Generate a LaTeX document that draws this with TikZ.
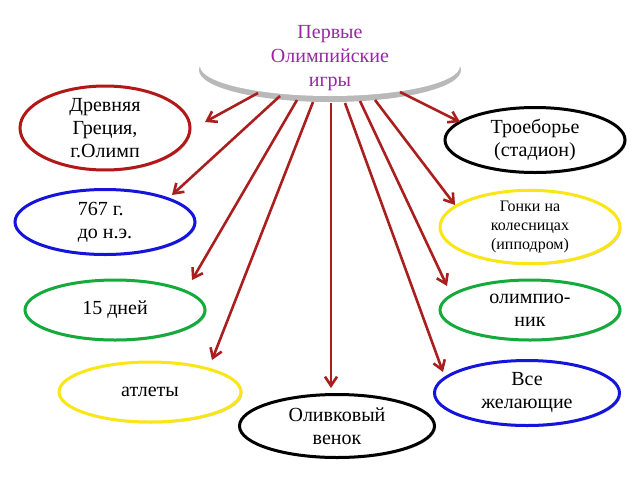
\documentclass[tikz,border=0pt]{standalone}
\usepackage{fontspec}
\setmainfont{Liberation Serif}
\usetikzlibrary{shapes.geometric,shadows,arrows.meta}
\definecolor{darkred}{RGB}{178,24,24}
\definecolor{arrred}{RGB}{170,30,30}
\definecolor{ringblue}{RGB}{20,20,220}
\definecolor{ringgreen}{RGB}{20,170,60}
\definecolor{ringyellow}{RGB}{250,230,20}
\definecolor{titlepurple}{RGB}{150,40,160}

\begin{document}
\begin{tikzpicture}[
    x=1pt, y=-1pt,
    ring/.style={ellipse, draw, line width=3pt, fill=white, align=center, inner sep=0pt,
      font=\fontsize{20}{23}\selectfont, drop shadow={shadow xshift=1.5pt, shadow yshift=-1.5pt, opacity=0.35}},
    arrow/.style={-{Straight Barb[length=9pt,width=12pt]}, draw=arrred, line width=2.6pt}
]
\useasboundingbox (0,0) rectangle (640,480);

% central ellipse
\fill[gray!55] (330,70) ellipse (131 and 32);
\fill[white] (330,66) ellipse (130 and 30);
\node[align=center, text=titlepurple, font=\fontsize{20}{24}\selectfont] (title) at (330,58) {Первые\\Олимпийские\\игры};

% nodes
\node[ring, draw=darkred, minimum width=170, minimum height=70] (greece) at (105,128) {Древняя\\Греция,\\г.Олимп};
\node[ring, draw=ringblue, minimum width=180, minimum height=65, align=left] (year) at (105,222) {767 г.\\до н.э.};
\node[ring, draw=ringgreen, minimum width=180, minimum height=60] (days) at (115,310) {15 дней};
\node[ring, draw=ringyellow, minimum width=182, minimum height=60] (athletes) at (150,392) {атлеты};
\node[ring, draw=black, minimum width=195, minimum height=63] (wreath) at (337,426) {Оливковый\\венок};
\node[ring, draw=ringblue, minimum width=185, minimum height=65] (all) at (527,393) {Все\\желающие};
\node[ring, draw=ringgreen, minimum width=180, minimum height=60] (champ) at (530,310) {олимпио-\\ник};
\node[ring, draw=ringyellow, minimum width=180, minimum height=69, font=\fontsize{16}{19}\selectfont] (race) at (530,227) {Гонки на\\колесницах\\(ипподром)};
\node[ring, draw=black, minimum width=180, minimum height=65] (triathlon) at (535,140) {Троеборье\\(стадион)};

% arrow ends
\coordinate (s1) at (258,93);  \coordinate (e1) at (205,122);
\coordinate (s2) at (280,96);  \coordinate (e2) at (172,195);
\coordinate (s3) at (297,100); \coordinate (e3) at (192,280);
\coordinate (s4) at (313,102); \coordinate (e4) at (212,360);
\coordinate (s5) at (331,103); \coordinate (e5) at (331,388);
\coordinate (s6) at (345,103); \coordinate (e6) at (443,372);
\coordinate (s7) at (360,101); \coordinate (e7) at (447,286);
\coordinate (s8) at (375,100); \coordinate (e8) at (455,205);
\coordinate (s9) at (400,92);  \coordinate (e9) at (460,122);

\foreach \i in {1,...,9}
  \draw[arrow] (s\i) -- (e\i);
\end{tikzpicture}
\end{document}
